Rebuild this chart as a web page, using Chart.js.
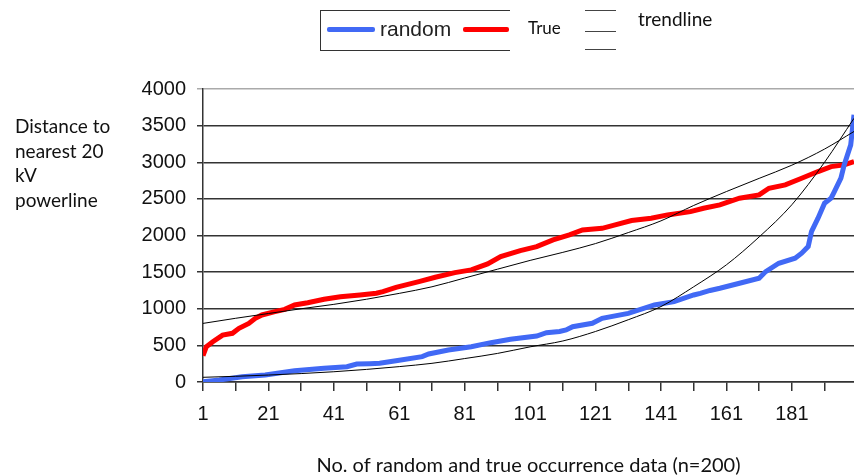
<!DOCTYPE html>
<html>
<head>
<meta charset="utf-8">
<script src="https://cdn.jsdelivr.net/npm/chart.js@4.4.0/dist/chart.umd.min.js"></script>
<style>
  body { margin: 0; background: #fff; }
  #wrap { position: relative; width: 854px; height: 476px; overflow: hidden; }
  #wrap canvas { position: absolute; left: 0; top: 0; }
  .txt { position: absolute; font-family: Lato, "Open Sans", sans-serif; color: #111; white-space: nowrap; }
  .box { position: absolute; left: 320px; top: 10px; width: 189px; height: 39px;
         border: 1.5px solid #333; border-right: none; }
  .swatch { position: absolute; height: 5px; border-radius: 2px; }
  .tl { position: absolute; left: 585px; width: 31px; height: 0; border-top: 1.5px solid #444; }
</style>
</head>
<body>
<div id="wrap">
  <canvas id="myChart" width="854" height="476"></canvas>
  <div class="box"></div>
  <div class="swatch" style="left:327px;top:27px;width:48px;background:#4169f5"></div>
  <div class="txt" style="left:380px;top:17px;font:21px 'Liberation Sans',Arial,sans-serif;color:#222">random</div>
  <div class="swatch" style="left:463px;top:27px;width:46px;background:#ff0000"></div>
  <div class="txt" style="left:528px;top:17px;font-size:17px">True</div>
  <div class="tl" style="top:10px"></div>
  <div class="tl" style="top:31px"></div>
  <div class="tl" style="top:49px"></div>
  <div class="txt" style="left:638px;top:7px;font-size:19px">trendline</div>
  <div class="txt" style="left:15px;top:114px;font-size:19px;line-height:24.5px">Distance to<br>nearest 20<br>kV<br>powerline</div>
</div>
<script>
'use strict';
// occurrence index (x) and distance (y)
const trueIdx = [1, 2, 4, 7, 10, 12, 15, 17, 19, 23, 26, 29, 33, 38, 43, 49, 54, 56, 60, 67,
  72, 78, 83, 88, 92, 98, 103, 108, 113, 117, 123, 127, 132, 138, 143, 150, 154, 159, 165,
  171, 174, 179, 184, 189, 193, 197, 200];
const trueDist = [360, 480, 550, 640, 665, 733, 800, 869, 915, 960, 992, 1052, 1083, 1130,
  1165, 1188, 1211, 1234, 1293, 1370, 1430, 1493, 1530, 1612, 1712, 1794, 1848, 1940, 2008,
  2076, 2098, 2145, 2204, 2236, 2281, 2326, 2372, 2418, 2509, 2554, 2645, 2691, 2782, 2873,
  2941, 2964, 3009];

const randomIdx = [1, 6, 13, 20, 29, 38, 45, 48, 52, 55, 60, 68, 70, 76, 83, 89, 95, 103,
  106, 110, 112, 114, 120, 123, 131, 139, 145, 151, 153, 156, 159, 165, 171, 173, 177, 182,
  184, 186, 187, 189, 191, 193, 194, 196, 197, 199, 200];
const randomDist = [4, 27, 72, 96, 154, 187, 209, 246, 250, 255, 291, 346, 382, 437, 482,
  537, 583, 628, 673, 690, 710, 755, 801, 869, 937, 1052, 1097, 1188, 1210, 1250, 1280,
  1348, 1416, 1507, 1621, 1690, 1758, 1849, 2053, 2236, 2441, 2509, 2600, 2782, 2964,
  3237, 3647];

const trendIdx = [1, 11, 21, 31, 41, 51, 61, 71, 81, 91, 101, 111, 121, 131, 141, 151, 161,
  171, 181, 191, 200];
const trendTrue = [800, 870, 935, 1000, 1060, 1130, 1210, 1300, 1420, 1540, 1660, 1770,
  1890, 2040, 2200, 2410, 2600, 2780, 2960, 3180, 3420];
const trendRandom = [64, 78, 95, 115, 140, 172, 210, 255, 320, 390, 480, 560, 690, 850,
  1030, 1300, 1600, 1980, 2420, 3000, 3600];

const xTicks = [1, 11, 21, 31, 41, 51, 61, 71, 81, 91, 101, 111, 121, 131, 141, 151, 161, 171, 181, 191];

function pts(xs, ys) {
  return xs.map((x, i) => ({ x: x, y: ys[i] }));
}

const ctx = document.getElementById('myChart').getContext('2d');
new Chart(ctx, {
  type: 'line',
  data: {
    datasets: [
      { label: 'trend true', data: pts(trendIdx, trendTrue), borderColor: '#000', borderWidth: 1,
        cubicInterpolationMode: 'monotone', pointRadius: 0, fill: false },
      { label: 'trend random', data: pts(trendIdx, trendRandom), borderColor: '#000', borderWidth: 1,
        cubicInterpolationMode: 'monotone', pointRadius: 0, fill: false },
      { label: 'random', data: pts(randomIdx, randomDist), borderColor: '#4169f5', borderWidth: 5,
        pointRadius: 0, fill: false },
      { label: 'True', data: pts(trueIdx, trueDist), borderColor: '#ff0000', borderWidth: 5,
        pointRadius: 0, fill: false }
    ]
  },
  options: {
    responsive: false,
    animation: false,
    layout: { padding: { top: 89, left: 0, right: 0, bottom: 0 } },
    plugins: { legend: { display: false }, tooltip: { enabled: false } },
    scales: {
      x: {
        type: 'linear',
        min: 1,
        max: 200,
        afterBuildTicks: scale => { scale.ticks = xTicks.map(v => ({ value: v })); },
        afterFit: scale => { scale.height = 94; },
        grid: { drawOnChartArea: false, drawTicks: true, tickLength: 9, color: '#333', lineWidth: 1.5 },
        border: { display: true, color: '#333', width: 1.5 },
        ticks: {
          autoSkip: false,
          maxRotation: 0,
          padding: 11,
          color: '#111',
          font: { family: 'Liberation Sans', size: 20 },
          callback: v => ((v - 1) % 20 === 0 ? String(v) : '')
        },
        title: {
          display: true,
          text: 'No. of random and true occurrence data (n=200)',
          color: '#111',
          font: { family: 'Lato', size: 20, lineHeight: 1 },
          padding: { top: 0, bottom: 0 }
        }
      },
      y: {
        min: 0,
        max: 4000,
        afterFit: scale => { scale.width = 203; },
        grid: {
          color: c => (c.tick && c.tick.value === 4000 ? '#aaa' : '#333'),
          lineWidth: 1.5,
          tickLength: 6
        },
        border: { display: true, color: '#333', width: 1.5 },
        ticks: {
          stepSize: 500,
          padding: 11,
          color: '#111',
          font: { family: 'Liberation Sans', size: 20 },
          callback: v => String(v)
        }
      }
    }
  }
});
</script>
</body>
</html>
